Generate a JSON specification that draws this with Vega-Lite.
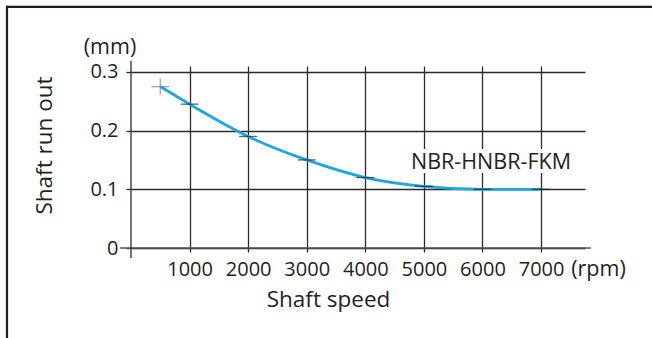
{
  "$schema": "https://vega.github.io/schema/vega-lite/v6.json",
  "width": 454,
  "height": 182,
  "autosize": {"type": "none"},
  "padding": {"left": 131, "top": 66, "right": 67, "bottom": 90},
  "background": "white",
  "config": {
    "view": {"stroke": null},
    "axis": {
      "labelFont": "Open Sans",
      "titleFont": "Open Sans",
      "labelFontSize": 20,
      "titleFontSize": 22.5,
      "labelColor": "#231f20",
      "titleColor": "#231f20",
      "titleFontWeight": "normal",
      "gridColor": "#2b2b2b",
      "gridOpacity": 1,
      "gridWidth": 1.3,
      "tickColor": "#2b2b2b",
      "tickWidth": 1.3,
      "domain": false
    }
  },
  "layer": [
    {
      "data": {
        "values": [
          {"speed": 500, "runout": 0.275, "marker": "start"},
          {"speed": 1000, "runout": 0.245, "marker": "point"},
          {"speed": 2000, "runout": 0.19, "marker": "point"},
          {"speed": 3000, "runout": 0.15, "marker": "point"},
          {"speed": 4000, "runout": 0.12, "marker": "point"},
          {"speed": 5000, "runout": 0.105, "marker": "point"},
          {"speed": 6000, "runout": 0.1, "marker": "point"},
          {"speed": 7000, "runout": 0.1, "marker": "point"}
        ]
      },
      "layer": [
        {
          "mark": {"type": "line", "color": "#1aa7e2", "strokeWidth": 2.8, "interpolate": "monotone", "clip": false},
          "encoding": {
            "x": {
              "field": "speed", "type": "quantitative",
              "scale": {"domain": [0, 7750], "nice": false, "zero": false},
              "axis": {
                "values": [1000, 2000, 3000, 4000, 5000, 6000, 7000],
                "format": "d",
                "grid": true, "tickSize": 4, "labelPadding": 7,
                "title": "Shaft speed",
                "titleX": 197, "titleY": 51, "titleAlign": "center", "titleBaseline": "middle",
                "labelFlush": false, "labelOverlap": false
              }
            },
            "y": {
              "field": "runout", "type": "quantitative",
              "scale": {"domain": [0, 0.31], "nice": false, "zero": false},
              "axis": {
                "values": [0, 0.1, 0.2, 0.3],
                "grid": true, "tickSize": 5, "labelPadding": 8,
                "labelExpr": "datum.value == 0 ? '0' : format(datum.value, '.1f')",
                "title": "Shaft run out",
                "titleX": -87, "titleY": 79, "titleAlign": "center", "titleBaseline": "middle",
                "labelFlush": false, "labelOverlap": false
              }
            }
          }
        },
        {
          "mark": {"type": "tick", "orient": "horizontal", "size": 18, "thickness": 1.3, "clip": false},
          "encoding": {
            "x": {"field": "speed", "type": "quantitative"},
            "y": {"field": "runout", "type": "quantitative"},
            "color": {
              "field": "marker", "type": "nominal",
              "scale": {"domain": ["start", "point"], "range": ["#808080", "#231f20"]},
              "legend": null
            }
          }
        },
        {
          "transform": [{"filter": "datum.marker == 'start'"}],
          "mark": {"type": "tick", "orient": "vertical", "size": 16, "thickness": 1.3, "color": "#808080", "clip": false},
          "encoding": {
            "x": {"field": "speed", "type": "quantitative"},
            "y": {"field": "runout", "type": "quantitative"}
          }
        }
      ]
    },
    {
      "data": {"values": [{}]},
      "mark": {"type": "rule", "color": "#555555", "strokeWidth": 1.5, "clip": false},
      "encoding": {
        "x": {"datum": -188}, "x2": {"datum": 7853},
        "y": {"datum": 0}
      }
    },
    {
      "data": {"values": [{}]},
      "mark": {"type": "rule", "color": "#2b2b2b", "strokeWidth": 1.3, "clip": false},
      "encoding": {
        "x": {"datum": 0},
        "y": {"datum": -0.017}, "y2": {"datum": 0.3188}
      }
    },
    {
      "data": {"values": [{}]},
      "mark": {"type": "rule", "color": "#231f20", "strokeWidth": 2.2, "clip": false},
      "encoding": {
        "x": {"datum": -2134}, "x2": {"datum": 8894},
        "y": {"datum": 0.4108}
      }
    },
    {
      "data": {"values": [{}]},
      "mark": {"type": "rule", "color": "#231f20", "strokeWidth": 2.2, "clip": false},
      "encoding": {
        "x": {"datum": -2117},
        "y": {"datum": 0.4125}, "y2": {"datum": -0.17}
      }
    },
    {
      "data": {"values": [{}]},
      "mark": {"type": "text", "fontSize": 21.5, "font": "Open Sans", "fill": "white", "stroke": "white", "strokeWidth": 8, "align": "center", "baseline": "middle", "clip": false},
      "encoding": {
        "x": {"datum": 6145}, "y": {"datum": 0.144},
        "text": {"value": "NBR-HNBR-FKM"}
      }
    },
    {
      "data": {"values": [{}]},
      "mark": {"type": "text", "fontSize": 21.5, "font": "Open Sans", "fill": "#231f20", "align": "center", "baseline": "middle", "clip": false},
      "encoding": {
        "x": {"datum": 6145}, "y": {"datum": 0.144},
        "text": {"value": "NBR-HNBR-FKM"}
      }
    },
    {
      "data": {"values": [{}]},
      "mark": {"type": "text", "fontSize": 21.5, "font": "Open Sans", "fill": "#231f20", "align": "center", "baseline": "middle", "clip": false},
      "encoding": {
        "x": {"datum": -358}, "y": {"datum": 0.341},
        "text": {"value": "(mm)"}
      }
    },
    {
      "data": {"values": [{}]},
      "mark": {"type": "text", "fontSize": 21.5, "font": "Open Sans", "fill": "#231f20", "align": "center", "baseline": "middle", "clip": false},
      "encoding": {
        "x": {"datum": 7980}, "y": {"datum": -0.0375},
        "text": {"value": "(rpm)"}
      }
    }
  ]
}
